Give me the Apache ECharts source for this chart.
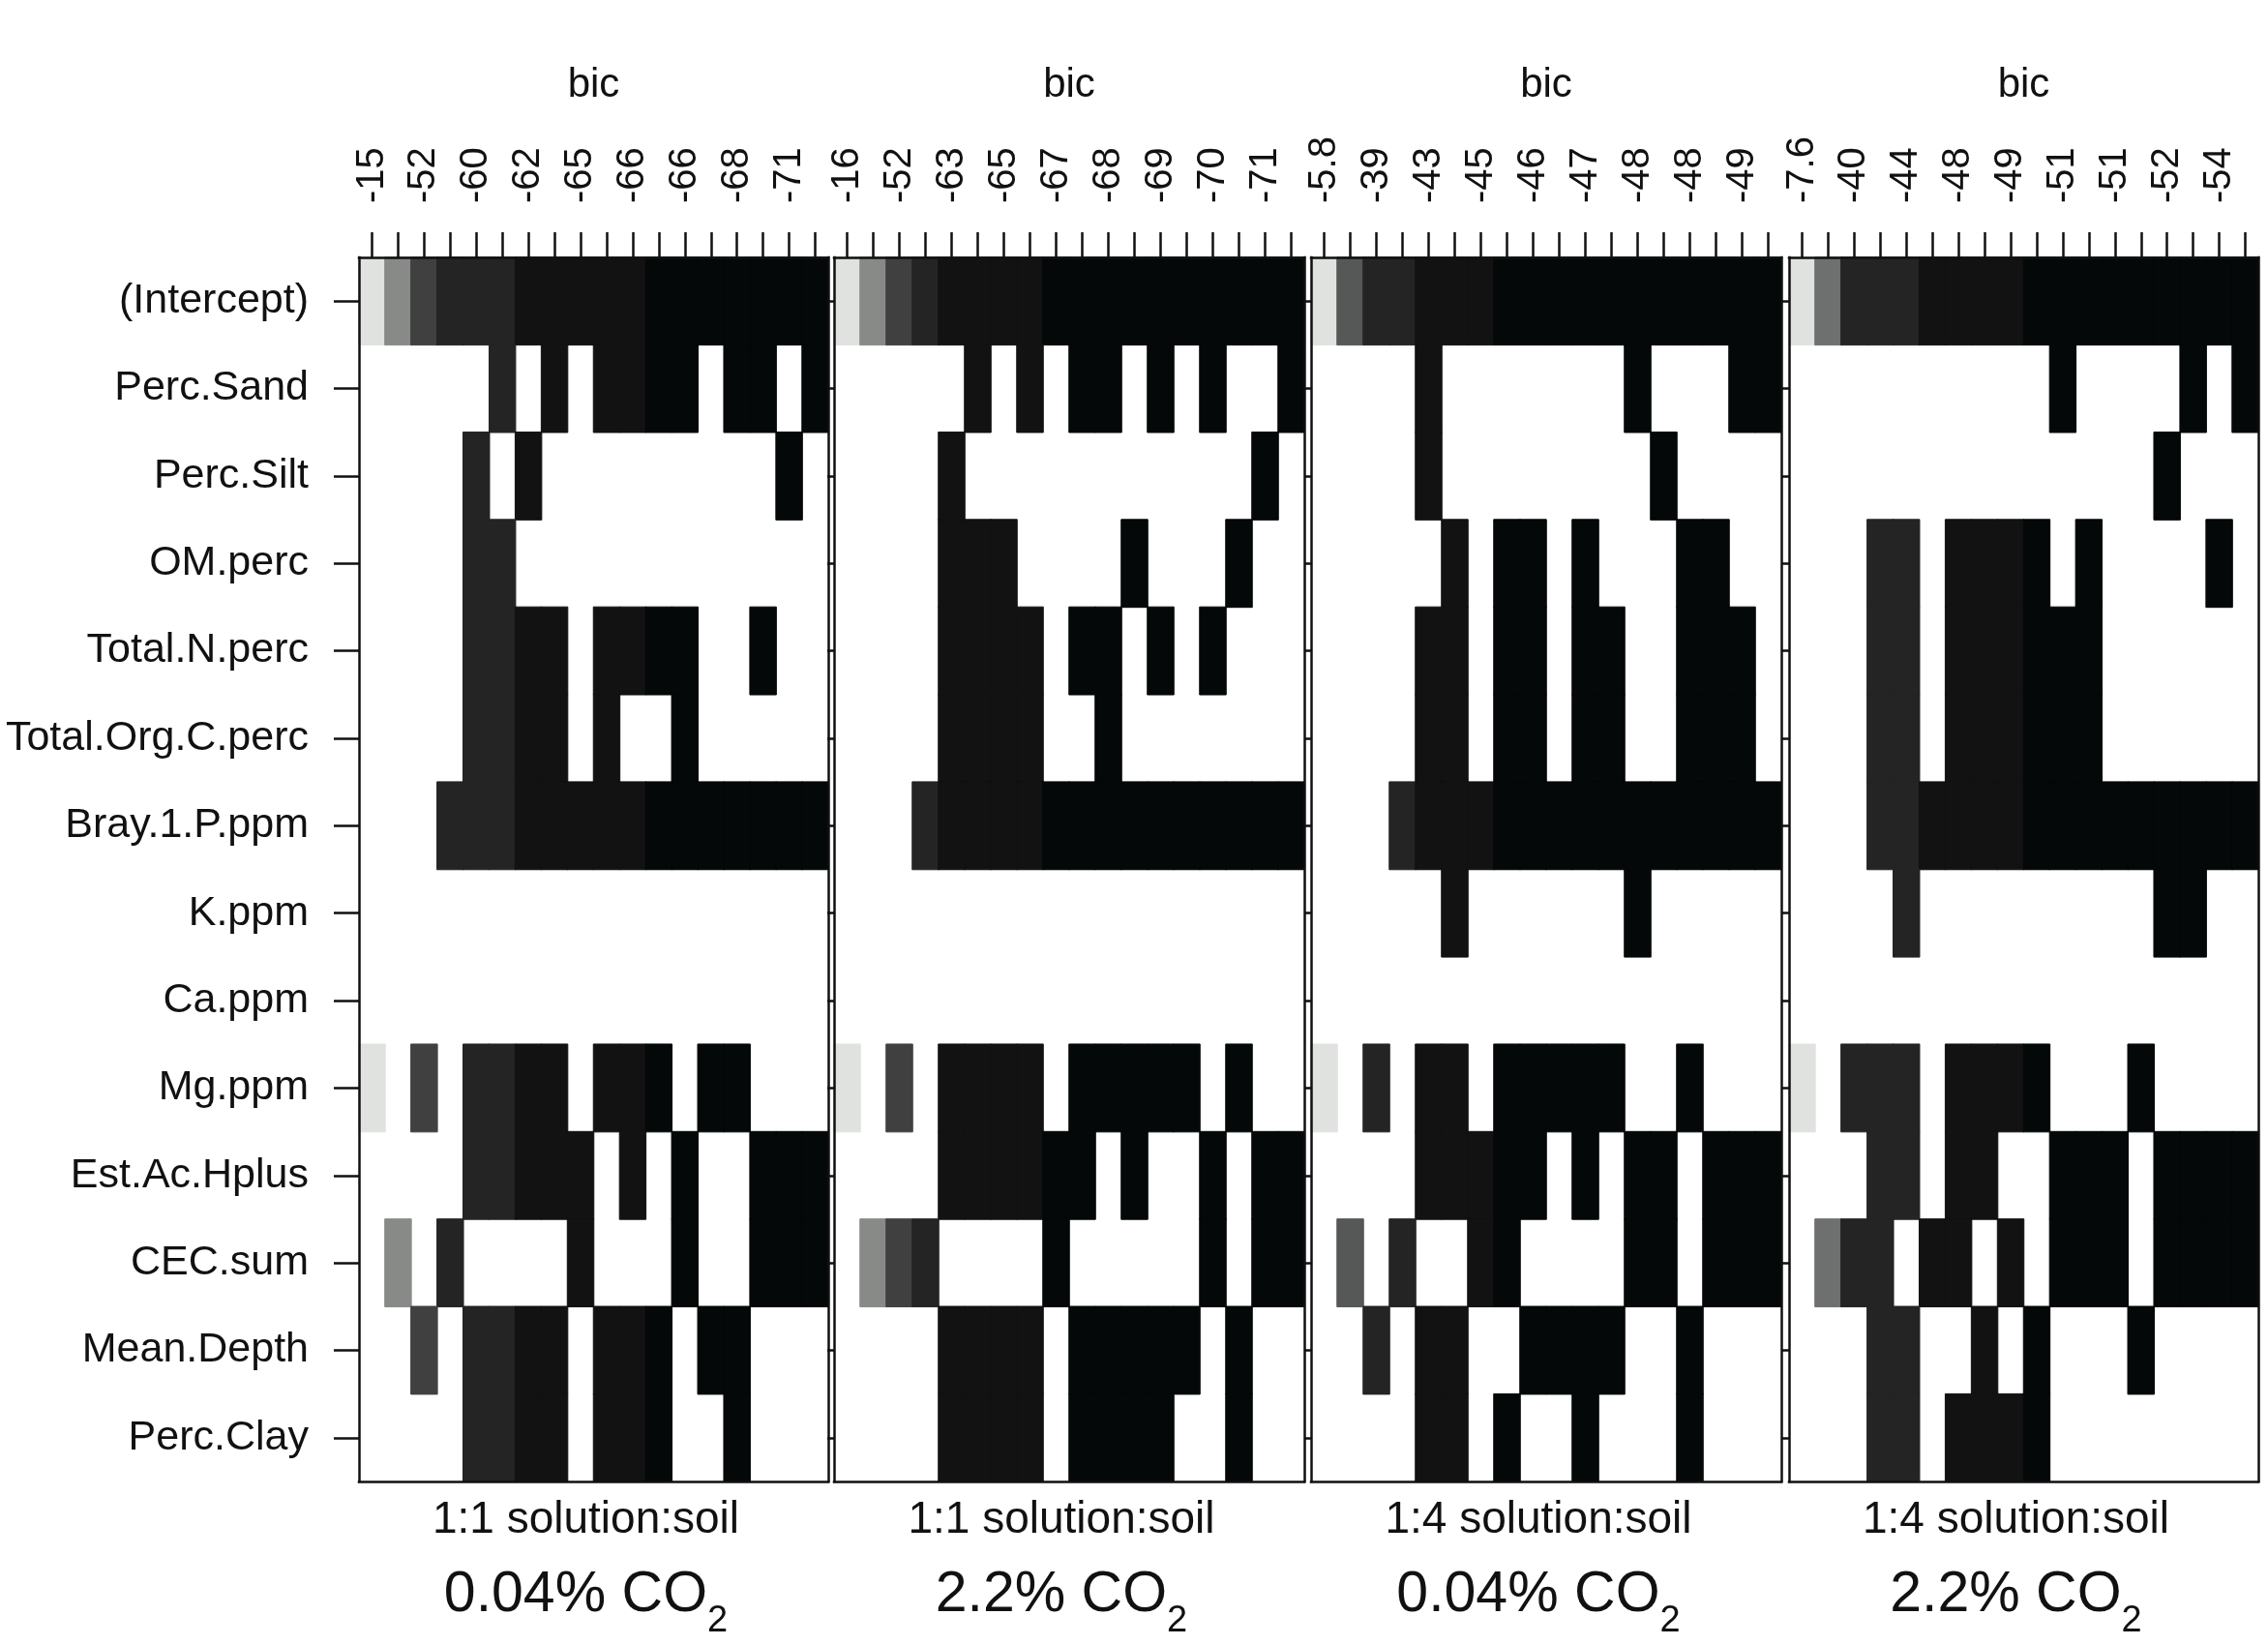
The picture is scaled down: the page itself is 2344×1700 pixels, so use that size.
<!DOCTYPE html>
<html><head><meta charset="utf-8">
<script src="https://cdn.jsdelivr.net/npm/echarts@6/dist/echarts.min.js"></script>
<style>html,body{margin:0;padding:0;background:#fff}#c{width:2344px;height:1700px}</style>
</head><body><div id="c"></div>
<script>
// ---- data ----
const variables = ['(Intercept)','Perc.Sand','Perc.Silt','OM.perc','Total.N.perc','Total.Org.C.perc','Bray.1.P.ppm','K.ppm','Ca.ppm','Mg.ppm','Est.Ac.Hplus','CEC.sum','Mean.Depth','Perc.Clay'];
const solutionRatio = ['1:1 solution:soil','1:1 solution:soil','1:4 solution:soil','1:4 solution:soil'];
const co2Level = ['0.04%','2.2%','0.04%','2.2%'];

// BIC of each of the 18 models (columns), left to right
const bic1 = [-15.2,-35,-52,-57,-59.8,-60.1,-62.2,-63.5,-64.8,-65.3,-65.7,-66.0,-66.2,-67,-68,-69.5,-71.0,-71.4];
const bic2 = [-16.0,-35.5,-52,-58,-62.8,-64,-65.2,-65.8,-66.8,-67.3,-67.9,-68.3,-68.8,-69.3,-69.8,-70.3,-70.9,-71.5];
const bic3 = [-5.8,-30,-39,-40.4,-43,-44,-44.9,-45.2,-45.6,-46.2,-46.6,-47.1,-47.6,-47.8,-48.2,-48.4,-48.7,-49.4];
const bic4 = [-7.6,-28.5,-40.4,-42,-44,-46,-47.8,-48.5,-49.2,-49.8,-50.8,-51.0,-51.2,-51.6,-52.0,-52.8,-53.8,-54.3];

const allCols = [1,2,3,4,5,6,7,8,9,10,11,12,13,14,15,16,17,18];
const bigModelCols = [4,5,6,7,8,9,10,11,12,13,14,15,16,17,18];

// models (1-based columns) that contain each variable, rows in 'variables' order
const models1 = [
  allCols,
  [6,8,10,11,12,13,15,16,18],
  [5,7,17],
  [5,6],
  [5,6,7,8,10,11,12,13,16],
  [5,6,7,8,10,13],
  bigModelCols,
  [],
  [],
  [1,3,5,6,7,8,10,11,12,14,15],
  [5,6,7,8,9,11,13,16,17,18],
  [2,4,9,13,16,17,18],
  [3,5,6,7,8,10,11,12,14,15],
  [5,6,7,8,10,11,12,15]
];
const models2 = [
  allCols,
  [6,8,10,11,13,15,18],
  [5,17],
  [5,6,7,12,16],
  [5,6,7,8,10,11,13,15],
  [5,6,7,8,11],
  bigModelCols,
  [],
  [],
  [1,3,5,6,7,8,10,11,12,13,14,16],
  [5,6,7,8,9,10,12,15,17,18],
  [2,3,4,9,15,17,18],
  [5,6,7,8,10,11,12,13,14,16],
  [5,6,7,8,10,11,12,13,16]
];
const models3 = [
  allCols,
  [5,13,17,18],
  [5,14],
  [6,8,9,11,15,16],
  [5,6,8,9,11,12,15,16,17],
  [5,6,8,9,11,12,15,16,17],
  bigModelCols,
  [6,13],
  [],
  [1,3,5,6,8,9,10,11,12,15],
  [5,6,7,8,9,11,13,14,16,17,18],
  [2,4,7,8,13,14,16,17,18],
  [3,5,6,9,10,11,12,15],
  [5,6,8,11,15]
];
const models4 = [
  allCols,
  [11,16,18],
  [15],
  [4,5,7,8,9,10,12,17],
  [4,5,7,8,9,10,11,12],
  [4,5,7,8,9,10,11,12],
  bigModelCols,
  [5,15,16],
  [],
  [1,3,4,5,7,8,9,10,14],
  [4,5,7,8,11,12,13,15,16,17,18],
  [2,3,4,6,7,9,11,12,13,15,16,17,18],
  [4,5,8,10,14],
  [4,5,7,8,9,10]
];

// ---- style ----
const FONT = '"Liberation Sans", Arial, Helvetica, sans-serif';
const grays = ['#050808','#121212','#242424','#404040','#555857','#6e706f','#888a88','#a4a6a5','#c2c4c3','#e0e2e0'];
const boxes = [{left:371,width:485},{left:862,width:486},{left:1355,width:486},{left:1849,width:485}];
const TOP = 266, HEIGHT = 1266;
const lineStyle = {color:'#111', width:2.5, cap:'square'};

const bicSets = [bic1,bic2,bic3,bic4];
const modelSets = [models1,models2,models3,models4];

const signif2 = v => String(Number(v.toPrecision(2)));

const grid = [], xAxis = [], yAxis = [], series = [];
bicSets.forEach((bic, p) => {
  const lo = Math.min(...bic), hi = Math.max(...bic);
  const shade = v => grays[Math.min(9, Math.floor((v - lo) / (hi - lo) * 10))];
  grid.push({left: boxes[p].left, width: boxes[p].width, top: TOP, height: HEIGHT, containLabel: false});
  const labels = bic.map(signif2);
  xAxis.push({
    type:'category', gridIndex:p, position:'top', data:labels, z:10,
    axisLine:{show:true, lineStyle},
    axisTick:{show:true, alignWithLabel:true, interval:0, length:26, lineStyle:{color:'#111', width:2.5}},
    axisLabel:{show:true, interval:1, rotate:-90, margin:56, fontSize:40, fontFamily:FONT, color:'#111'},
    splitLine:{show:false},
    name:'bic', nameLocation:'middle', nameGap:157,
    nameTextStyle:{fontSize:42, fontFamily:FONT, color:'#111'}
  });
  xAxis.push({
    type:'category', gridIndex:p, position:'bottom', data:labels, z:10,
    axisLine:{show:true, lineStyle}, axisTick:{show:false}, axisLabel:{show:false}, splitLine:{show:false},
    name:'{a|' + solutionRatio[p] + '}\n{b|' + co2Level[p] + ' CO}{s|2}',
    nameLocation:'middle', nameGap:8,
    nameTextStyle:{
      fontFamily:FONT, color:'#111', padding:[0,16,0,0],
      rich:{
        a:{fontSize:46, lineHeight:64, fontFamily:FONT, color:'#111'},
        b:{fontSize:59, lineHeight:80, fontFamily:FONT, color:'#111'},
        s:{fontSize:38, padding:[54,0,0,0], fontFamily:FONT, color:'#111'}
      }
    }
  });
  yAxis.push({
    type:'category', gridIndex:p, position:'left', data:variables, inverse:true, z:10,
    axisLine:{show:true, lineStyle},
    axisTick:{show:true, alignWithLabel:true, interval:0, length: p === 0 ? 26 : 7, lineStyle:{color:'#111', width:2.5}},
    axisLabel:{show: p === 0, interval:0, margin:52, fontSize:43, fontFamily:FONT, color:'#111'},
    splitLine:{show:false}
  });
  yAxis.push({
    type:'category', gridIndex:p, position:'right', data:variables, inverse:true, z:10,
    axisLine:{show:true, lineStyle}, axisTick:{show:false}, axisLabel:{show:false}, splitLine:{show:false}
  });
  const data = [];
  modelSets[p].forEach((cols, r) => {
    cols.forEach(c => {
      const v = bic[c - 1];
      const col = shade(v);
      data.push({value:[c - 1, r, v], itemStyle:{color: col, borderColor: col, borderWidth: 1}});
    });
  });
  series.push({
    type:'heatmap', xAxisIndex: 2*p, yAxisIndex: 2*p, data,
    label:{show:false}, emphasis:{disabled:true}, progressive:0
  });
});

const chart = echarts.init(document.getElementById('c'), null, {renderer:'canvas', width:2344, height:1700});
chart.setOption({
  backgroundColor:'#ffffff',
  animation:false,
  textStyle:{fontFamily:FONT},
  grid, xAxis, yAxis, series
});
</script>
</body></html>
